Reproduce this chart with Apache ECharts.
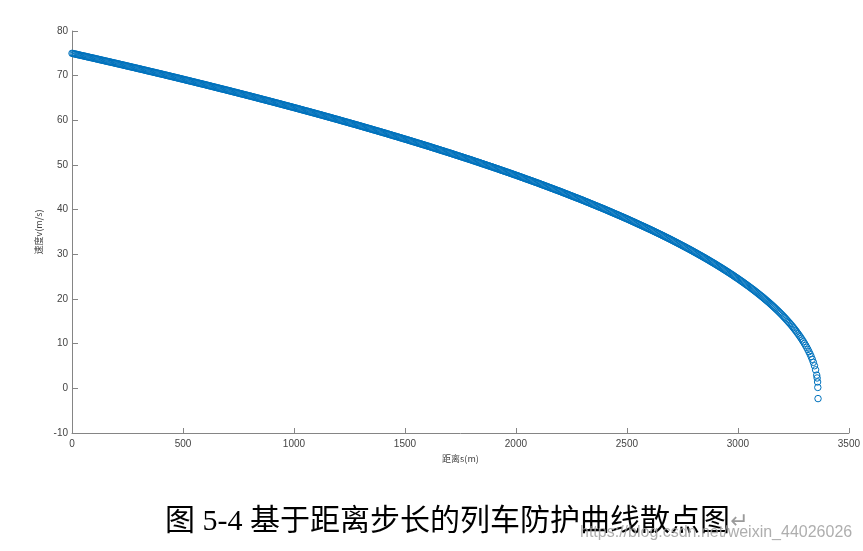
<!DOCTYPE html>
<html><head><meta charset="utf-8">
<script src="https://cdn.jsdelivr.net/npm/echarts@6/dist/echarts.min.js"></script>
<style>html,body{margin:0;padding:0;background:#fff}#c{width:863px;height:551px}</style>
</head><body><div id="c"></div>
<script>
// distance s (m)
const distance = [
0,5,10,15,20,25,30,35,40,45,50,55,60,65,70,75,80,85,90,95,
100,105,110,115,120,125,130,135,140,145,150,155,160,165,170,175,180,185,190,195,
200,205,210,215,220,225,230,235,240,245,250,255,260,265,270,275,280,285,290,295,
300,305,310,315,320,325,330,335,340,345,350,355,360,365,370,375,380,385,390,395,
400,405,410,415,420,425,430,435,440,445,450,455,460,465,470,475,480,485,490,495,
500,505,510,515,520,525,530,535,540,545,550,555,560,565,570,575,580,585,590,595,
600,605,610,615,620,625,630,635,640,645,650,655,660,665,670,675,680,685,690,695,
700,705,710,715,720,725,730,735,740,745,750,755,760,765,770,775,780,785,790,795,
800,805,810,815,820,825,830,835,840,845,850,855,860,865,870,875,880,885,890,895,
900,905,910,915,920,925,930,935,940,945,950,955,960,965,970,975,980,985,990,995,
1000,1005,1010,1015,1020,1025,1030,1035,1040,1045,1050,1055,1060,1065,1070,1075,1080,1085,1090,1095,
1100,1105,1110,1115,1120,1125,1130,1135,1140,1145,1150,1155,1160,1165,1170,1175,1180,1185,1190,1195,
1200,1205,1210,1215,1220,1225,1230,1235,1240,1245,1250,1255,1260,1265,1270,1275,1280,1285,1290,1295,
1300,1305,1310,1315,1320,1325,1330,1335,1340,1345,1350,1355,1360,1365,1370,1375,1380,1385,1390,1395,
1400,1405,1410,1415,1420,1425,1430,1435,1440,1445,1450,1455,1460,1465,1470,1475,1480,1485,1490,1495,
1500,1505,1510,1515,1520,1525,1530,1535,1540,1545,1550,1555,1560,1565,1570,1575,1580,1585,1590,1595,
1600,1605,1610,1615,1620,1625,1630,1635,1640,1645,1650,1655,1660,1665,1670,1675,1680,1685,1690,1695,
1700,1705,1710,1715,1720,1725,1730,1735,1740,1745,1750,1755,1760,1765,1770,1775,1780,1785,1790,1795,
1800,1805,1810,1815,1820,1825,1830,1835,1840,1845,1850,1855,1860,1865,1870,1875,1880,1885,1890,1895,
1900,1905,1910,1915,1920,1925,1930,1935,1940,1945,1950,1955,1960,1965,1970,1975,1980,1985,1990,1995,
2000,2005,2010,2015,2020,2025,2030,2035,2040,2045,2050,2055,2060,2065,2070,2075,2080,2085,2090,2095,
2100,2105,2110,2115,2120,2125,2130,2135,2140,2145,2150,2155,2160,2165,2170,2175,2180,2185,2190,2195,
2200,2205,2210,2215,2220,2225,2230,2235,2240,2245,2250,2255,2260,2265,2270,2275,2280,2285,2290,2295,
2300,2305,2310,2315,2320,2325,2330,2335,2340,2345,2350,2355,2360,2365,2370,2375,2380,2385,2390,2395,
2400,2405,2410,2415,2420,2425,2430,2435,2440,2445,2450,2455,2460,2465,2470,2475,2480,2485,2490,2495,
2500,2505,2510,2515,2520,2525,2530,2535,2540,2545,2550,2555,2560,2565,2570,2575,2580,2585,2590,2595,
2600,2605,2610,2615,2620,2625,2630,2635,2640,2645,2650,2655,2660,2665,2670,2675,2680,2685,2690,2695,
2700,2705,2710,2715,2720,2725,2730,2735,2740,2745,2750,2755,2760,2765,2770,2775,2780,2785,2790,2795,
2800,2805,2810,2815,2820,2825,2830,2835,2840,2845,2850,2855,2860,2865,2870,2875,2880,2885,2890,2895,
2900,2905,2910,2915,2920,2925,2930,2935,2940,2945,2950,2955,2960,2965,2970,2975,2980,2985,2990,2995,
3000,3005,3010,3015,3020,3025,3030,3035,3040,3045,3050,3055,3060,3065,3070,3075,3080,3085,3090,3095,
3100,3105,3110,3115,3120,3125,3130,3135,3140,3145,3150,3155,3160,3165,3170,3175,3180,3185,3190,3195,
3200,3205,3210,3215,3220,3225,3230,3235,3240,3245,3250,3255,3260,3265,3270,3275,3280,3285,3290,3295,
3300,3305,3310,3315,3320,3325,3330,3335,3340,3345,3350,3355,3357,3359,3360,3361
];
// speed v (m/s)
const speed = [
75.00,74.945,74.89,74.835,74.78,74.72,74.66,74.605,74.55,74.495,74.44,74.385,74.33,74.27,74.21,74.155,74.10,74.045,73.99,73.935,
73.88,73.82,73.76,73.705,73.65,73.59,73.53,73.475,73.42,73.36,73.30,73.245,73.19,73.135,73.08,73.02,72.96,72.905,72.85,72.79,
72.73,72.675,72.62,72.56,72.50,72.445,72.39,72.33,72.27,72.21,72.15,72.095,72.04,71.98,71.92,71.865,71.81,71.75,71.69,71.63,
71.57,71.515,71.46,71.40,71.34,71.28,71.22,71.16,71.10,71.04,70.98,70.925,70.87,70.81,70.75,70.69,70.63,70.57,70.51,70.455,
70.40,70.34,70.28,70.22,70.16,70.10,70.04,69.98,69.92,69.86,69.80,69.74,69.68,69.62,69.56,69.50,69.44,69.38,69.32,69.26,
69.20,69.135,69.07,69.01,68.95,68.89,68.83,68.77,68.71,68.65,68.59,68.525,68.46,68.40,68.34,68.28,68.22,68.16,68.10,68.04,
67.98,67.915,67.85,67.79,67.73,67.665,67.60,67.54,67.48,67.415,67.35,67.29,67.23,67.165,67.10,67.04,66.98,66.92,66.86,66.795,
66.73,66.67,66.61,66.545,66.48,66.415,66.35,66.29,66.23,66.165,66.10,66.035,65.97,65.91,65.85,65.785,65.72,65.655,65.59,65.53,
65.47,65.405,65.34,65.275,65.21,65.145,65.08,65.015,64.95,64.885,64.82,64.755,64.69,64.625,64.56,64.495,64.43,64.365,64.30,64.24,
64.18,64.11,64.04,63.975,63.91,63.845,63.78,63.715,63.65,63.585,63.52,63.45,63.38,63.315,63.25,63.185,63.12,63.055,62.99,62.925,
62.86,62.79,62.72,62.655,62.59,62.52,62.45,62.385,62.32,62.25,62.18,62.115,62.05,61.985,61.92,61.85,61.78,61.715,61.65,61.58,
61.51,61.44,61.37,61.305,61.24,61.17,61.10,61.03,60.96,60.89,60.82,60.755,60.69,60.62,60.55,60.48,60.41,60.34,60.27,60.205,
60.14,60.065,59.99,59.92,59.85,59.78,59.71,59.64,59.57,59.50,59.43,59.36,59.29,59.22,59.15,59.08,59.01,58.94,58.87,58.80,
58.73,58.655,58.58,58.51,58.44,58.365,58.29,58.22,58.15,58.08,58.01,57.935,57.86,57.79,57.72,57.645,57.57,57.50,57.43,57.355,
57.28,57.21,57.14,57.065,56.99,56.915,56.84,56.765,56.69,56.615,56.54,56.47,56.40,56.325,56.25,56.175,56.10,56.025,55.95,55.875,
55.80,55.725,55.65,55.575,55.50,55.425,55.35,55.275,55.20,55.12,55.04,54.965,54.89,54.815,54.74,54.665,54.59,54.515,54.44,54.36,
54.28,54.205,54.13,54.05,53.97,53.89,53.81,53.735,53.66,53.58,53.50,53.42,53.34,53.265,53.19,53.11,53.03,52.95,52.87,52.795,
52.72,52.64,52.56,52.48,52.40,52.315,52.23,52.15,52.07,51.99,51.91,51.83,51.75,51.67,51.59,51.51,51.43,51.35,51.27,51.19,
51.11,51.025,50.94,50.855,50.77,50.69,50.61,50.525,50.44,50.355,50.27,50.19,50.11,50.025,49.94,49.855,49.77,49.69,49.61,49.525,
49.44,49.355,49.27,49.185,49.10,49.01,48.92,48.835,48.75,48.665,48.58,48.495,48.41,48.325,48.24,48.15,48.06,47.975,47.89,47.805,
47.72,47.63,47.54,47.45,47.36,47.27,47.18,47.09,47.00,46.91,46.82,46.735,46.65,46.56,46.47,46.38,46.29,46.20,46.11,46.02,
45.93,45.835,45.74,45.65,45.56,45.465,45.37,45.28,45.19,45.095,45.00,44.905,44.81,44.72,44.63,44.535,44.44,44.35,44.26,44.165,
44.07,43.975,43.88,43.78,43.68,43.585,43.49,43.39,43.29,43.195,43.10,43.00,42.90,42.805,42.71,42.615,42.52,42.42,42.32,42.225,
42.13,42.025,41.92,41.82,41.72,41.62,41.52,41.415,41.31,41.21,41.11,41.01,40.91,40.805,40.70,40.60,40.50,40.40,40.30,40.195,
40.09,39.985,39.88,39.77,39.66,39.555,39.45,39.34,39.23,39.125,39.02,38.915,38.81,38.70,38.59,38.485,38.38,38.27,38.16,38.055,
37.95,37.835,37.72,37.605,37.49,37.38,37.27,37.155,37.04,36.925,36.81,36.695,36.58,36.47,36.36,36.245,36.13,36.015,35.90,35.785,
35.67,35.555,35.44,35.32,35.20,35.08,34.96,34.84,34.72,34.60,34.48,34.36,34.24,34.115,33.99,33.87,33.75,33.625,33.50,33.375,
33.25,33.12,32.99,32.865,32.74,32.61,32.48,32.35,32.22,32.09,31.96,31.83,31.70,31.565,31.43,31.30,31.17,31.035,30.90,30.76,
30.62,30.485,30.35,30.21,30.07,29.93,29.79,29.65,29.51,29.37,29.23,29.085,28.94,28.795,28.65,28.50,28.35,28.205,28.06,27.91,
27.76,27.605,27.45,27.30,27.15,26.995,26.84,26.68,26.52,26.365,26.21,26.045,25.88,25.72,25.56,25.395,25.23,25.06,24.89,24.725,
24.56,24.385,24.21,24.035,23.86,23.685,23.51,23.33,23.15,22.97,22.79,22.605,22.42,22.23,22.04,21.85,21.66,21.465,21.27,21.07,
20.87,20.67,20.47,20.26,20.05,19.84,19.63,19.415,19.20,18.98,18.76,18.535,18.31,18.075,17.84,17.605,17.37,17.125,16.88,16.63,
16.38,16.12,15.86,15.59,15.32,15.04,14.76,14.48,14.19,13.89,13.58,13.27,12.95,12.63,12.29,11.94,11.59,11.22,10.84,10.45,
10.04,9.61,9.17,8.70,8.20,7.68,7.11,6.50,5.82,5.05,4.14,2.95,2.32,1.43,0.20,-2.30
];
const xAxisName = '距离s(m)';
const yAxisName = '速度v(m/s)';
const caption = '图 5-4 基于距离步长的列车防护曲线散点图';
const watermark = 'https://blog.csdn.net/weixin_44026026';

const points = distance.map((d, i) => [d, speed[i]]);
const axisGray = '#858585';
const labelColor = '#444';

const chart = echarts.init(document.getElementById('c'), null, {renderer: 'canvas'});
chart.setOption({
  animation: false,
  backgroundColor: '#fff',
  grid: {left: 72, right: 10, top: 31, bottom: 118, containLabel: false},
  xAxis: {
    type: 'value', min: 0, max: 3500, interval: 500,
    name: xAxisName, nameLocation: 'middle', nameGap: 19,
    nameTextStyle: {color: labelColor, fontSize: 9, fontFamily: '"Noto Sans CJK SC", sans-serif'},
    axisLine: {show: true, onZero: false, lineStyle: {color: axisGray, width: 1}},
    axisTick: {show: true, inside: true, length: 5, lineStyle: {color: axisGray, width: 1}},
    axisLabel: {color: labelColor, fontSize: 10, margin: 6, fontFamily: '"Liberation Sans", Arial, sans-serif',
      formatter: v => String(v)},
    splitLine: {show: false}
  },
  yAxis: {
    type: 'value', min: -10, max: 80, interval: 10,
    name: yAxisName, nameLocation: 'middle', nameGap: 21, nameRotate: 90,
    nameTextStyle: {color: labelColor, fontSize: 9, fontFamily: '"Noto Sans CJK SC", sans-serif'},
    axisLine: {show: true, onZero: false, lineStyle: {color: axisGray, width: 1}},
    axisTick: {show: true, inside: true, length: 6, lineStyle: {color: axisGray, width: 1}},
    axisLabel: {color: labelColor, fontSize: 10, margin: 4, fontFamily: '"Liberation Sans", Arial, sans-serif',
      formatter: v => String(v)},
    splitLine: {show: false}
  },
  series: [{
    type: 'scatter',
    data: points,
    symbol: 'circle',
    symbolSize: 6.5,
    silent: true,
    itemStyle: {color: 'rgba(0,0,0,0)', borderColor: '#0072BD', borderWidth: 1, opacity: 1},
    emphasis: {disabled: true}
  }],
  graphic: [
    {
      type: 'text', x: 165, y: 522,
      style: {
        text: '{a|' + caption + '}{b|↵}',
        verticalAlign: 'middle',
        rich: {
          a: {fontSize: 30, fontFamily: '"Liberation Serif", "Noto Sans CJK SC", serif', fill: '#000'},
          b: {fontSize: 22, fontFamily: '"DejaVu Sans", sans-serif', fill: '#9a9a9a'}
        }
      }
    },
    {
      type: 'text', x: 580, y: 533,
      style: {
        text: watermark, verticalAlign: 'middle',
        fontSize: 16, fontFamily: '"Liberation Sans", Arial, sans-serif',
        fill: 'rgba(160,160,160,0.85)'
      }
    }
  ]
});
</script>
</body></html>
